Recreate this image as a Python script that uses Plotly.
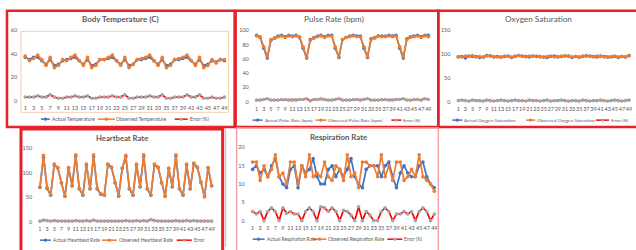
import plotly.graph_objects as go

W, H = 636, 250

# ---------------- data ----------------
idx = list(range(1, 50))
tick_vals = list(range(1, 50, 2))
tick_text = [str(v) for v in tick_vals]

temp_actual = [37, 35, 37, 37, 34, 31, 35, 30, 31, 34, 35, 36, 37, 34, 31, 35, 30, 31,
               35, 35, 36, 37, 34, 31, 35, 30, 31, 35, 35, 36, 37, 34, 31, 35, 30, 31,
               35, 35, 36, 37, 34, 31, 35, 30, 31, 34, 33, 35, 34]
temp_observed = [38, 34, 36, 39, 35, 30, 37, 28, 30, 35, 34, 37, 39, 34, 30, 37, 28, 30,
                 35, 35, 37, 39, 34, 30, 37, 28, 31, 35, 36, 37, 39, 34, 30, 37, 28, 30,
                 35, 36, 37, 39, 34, 30, 37, 28, 30, 35, 32, 35, 35]
temp_error = [3, 3, 3, 4, 3, 3, 5, 3, 2, 2, 3, 3, 4, 3, 3, 4, 2, 2,
              3, 3, 3, 4, 3, 3, 5, 2, 2, 3, 3, 3, 4, 3, 3, 5, 2, 2,
              3, 3, 3, 5, 3, 3, 5, 2, 2, 3, 2, 2, 3]

pulse_actual = [93, 90, 75, 61, 86, 89, 92, 93, 91, 93, 92, 93, 90, 75, 61, 87, 90, 92,
                93, 91, 93, 93, 75, 62, 87, 90, 92, 93, 92, 92, 75, 62, 88, 90, 92, 92,
                92, 93, 92, 93, 75, 61, 88, 91, 92, 93, 91, 93, 93]
pulse_observed = [92, 91, 77, 63, 87, 89, 91, 92, 90, 92, 91, 92, 91, 77, 62, 86, 89, 91,
                  92, 90, 92, 92, 77, 63, 87, 90, 91, 92, 91, 91, 77, 63, 87, 89, 92, 91,
                  91, 92, 91, 92, 77, 63, 87, 90, 91, 92, 90, 92, 91]
pulse_error = [2, 2, 3, 4, 2, 2, 2, 3, 3, 2, 2, 2, 3, 3, 4, 1, 3, 3,
               4, 3, 2, 2, 3, 4, 2, 2, 2, 3, 3, 2, 3, 4, 2, 2, 2, 3,
               3, 2, 2, 3, 3, 4, 2, 2, 3, 3, 2, 4, 3]

oxygen_actual = [94, 95, 92, 96, 95, 95, 93, 94, 97, 96, 94, 95, 94, 95, 96, 93, 95, 97,
                 96, 95, 94, 96, 95, 95, 94, 93, 95, 96, 94, 95, 96, 96, 93, 95, 94, 95,
                 96, 96, 95, 94, 96, 95, 94, 94, 95, 93, 95, 94, 97]
oxygen_observed = [95, 94, 96, 95, 97, 94, 95, 93, 96, 97, 95, 94, 93, 96, 95, 94, 96, 97,
                   95, 94, 96, 95, 96, 94, 93, 95, 96, 94, 95, 96, 97, 95, 94, 95, 93, 96,
                   97, 95, 94, 96, 95, 94, 93, 95, 96, 94, 95, 94, 96]
oxygen_error = [2, 3, 2, 1, 3, 2, 2, 1, 3, 2, 1, 2, 3, 2, 1, 2, 3, 2,
                2, 1, 3, 2, 2, 1, 2, 3, 1, 2, 2, 3, 2, 1, 2, 2, 1, 3,
                2, 1, 2, 2, 3, 2, 1, 2, 3, 2, 1, 2, 3]

heart_actual = [70, 132, 68, 54, 116, 110, 79, 52, 110, 73, 134, 67, 54, 116, 67, 133, 67,
                56, 54, 117, 111, 79, 52, 109, 133, 67, 54, 116, 71, 134, 67, 54, 116, 111,
                79, 52, 109, 71, 134, 67, 54, 116, 67, 118, 111, 80, 51, 110, 73]
heart_observed = [71, 136, 70, 55, 118, 111, 80, 52, 111, 74, 137, 68, 55, 118, 68, 137, 68,
                  57, 55, 118, 112, 80, 53, 110, 136, 68, 55, 118, 72, 137, 68, 55, 118, 112,
                  80, 53, 110, 72, 137, 68, 55, 118, 68, 120, 112, 81, 51, 111, 74]
heart_error = [1, 3, 2, 1, 2, 1, 1, 1, 1, 1, 2, 1, 1, 2, 1, 3, 1, 1, 1, 1, 1, 1, 1, 1, 2,
               1, 1, 2, 1, 2, 1, 4, 2, 1, 1, 1, 1, 1, 2, 1, 1, 2, 1, 2, 1, 1, 1, 1, 1]

resp_actual = [14, 15, 13, 14, 12, 15, 17, 12, 10, 9, 14, 15, 9, 15, 13, 14, 17, 12,
               10, 10, 14, 15, 12, 14, 12, 14, 17, 12, 10, 9, 14, 15, 15, 15, 12, 15,
               16, 12, 9, 13, 15, 13, 12, 12, 15, 16, 12, 10, 9]
resp_observed = [16, 16, 11, 15, 12, 14, 18, 12, 13, 10, 16, 16, 10, 15, 12, 18, 12, 13,
                 12, 16, 12, 11, 15, 14, 11, 18, 12, 13, 9, 16, 16, 15, 15, 12, 18, 12,
                 15, 11, 16, 16, 11, 12, 14, 12, 18, 12, 11, 10, 8]
resp_error = [2.5, 1.8, 2.5, 0, 2.5, 3.5, 2.5, 0, 3.5, 2, 2.5, 1.8, 1.8, 0, 2.5, 3.5, 2.5,
              0, 3.8, 3.5, 2.5, 3.5, 2.5, 0, 2.8, 2.5, 1.5, 0, 3.8, 0, 2.5, 1.5, 0, 0,
              2.5, 3.5, 2.5, 0, 1.8, 1.8, 2.5, 1.8, 2.5, 0, 2.5, 3.5, 2.5, 0, 1.8]

# ---------------- styling ----------------
BLUE = "#4472C4"
ORANGE = "#ED7D31"
ERR = "#FF0000"
GRAY = "#A5A5A5"
TXT = "#595959"
FRAME = "#E8202A"
PALE = "#F3A3A8"
FONT = "Lato"


def fx(px):
    return px / W


def fy(py):
    return 1 - py / H


panels = [
    dict(title="<b>Body Temperature (C)</b>", tx=121, ty=16, tsize=8,
         series=(temp_actual, temp_observed, temp_error),
         names=("Actual Temperature", "Observed Temperature", "Error (%)"),
         x1=25.3, x49=224.8, y0=100, ytop=28, ymax=60, dtick=20,
         leg_y=119, leg=[(41, 50, 51), (98, 115, 115), (175, 188, 189)], lsize=5),
    dict(title="Pulse Rate (bpm)", tx=335, ty=16, tsize=8.2,
         series=(pulse_actual, pulse_observed, pulse_error),
         names=("Actual Pulse Rate (bpm)", "Observed Pulse Rate (bpm)", "Error (%)"),
         x1=257, x49=429, y0=101, ytop=28, ymax=100, dtick=20,
         leg_y=120, leg=[(253, 263, 264), (316, 327, 328), (392, 402, 403)], lsize=4.6),
    dict(title="Oxygen Saturation", tx=539, ty=16, tsize=8.2,
         series=(oxygen_actual, oxygen_observed, oxygen_error),
         names=("Actual Oxygen Saturation", "Observed Oxygen Saturation", "Error (%)"),
         x1=459, x49=630, y0=101, ytop=28, ymax=150, dtick=50,
         leg_y=120, leg=[(453, 463, 464), (527, 536, 537), (597, 610, 611)], lsize=4.6),
    dict(title="<b>Heartbeat Rate</b>", tx=122, ty=138, tsize=7.7,
         series=(heart_actual, heart_observed, heart_error),
         names=("Actual Heartbeat Rate", "Observed Heartbeat Rate", "Error"),
         x1=40, x49=212, y0=224, ytop=149, ymax=150, dtick=50,
         leg_y=243, leg=[(40, 51, 52), (102, 117, 118), (177, 192, 193)], lsize=4.8),
    dict(title="<b>Respiration Rate</b>", tx=339, ty=137, tsize=7.8,
         series=(resp_actual, resp_observed, resp_error),
         names=("Actual Respiration Rate", "Observed Respiration Rate", "Error (%)"),
         x1=253, x49=435, y0=223, ytop=148, ymax=20, dtick=5,
         leg_y=242, leg=[(253, 265, 266), (313, 327, 328), (388, 403, 404)], lsize=4.8),
]

fig = go.Figure()
layout = dict(width=W, height=H, margin=dict(l=0, r=0, t=0, b=0),
              paper_bgcolor="white", plot_bgcolor="rgba(0,0,0,0)",
              showlegend=False, font=dict(family=FONT, color=TXT))
shapes = []
annotations = []

for k, p in enumerate(panels, start=1):
    sfx = "" if k == 1 else str(k)
    step = (p["x49"] - p["x1"]) / 48
    xl = p["x1"] - 0.5 * step
    xr = p["x49"] + 0.5 * step
    layout["xaxis" + sfx] = dict(
        domain=[fx(xl), fx(xr)], range=[0.5, 49.5], anchor="y" + sfx,
        tickvals=tick_vals, ticktext=tick_text, showgrid=False, zeroline=False,
        showline=False, ticks="", tickfont=dict(size=5.5, color=TXT, family=FONT),
        ticklabelstandoff=3, tickangle=0, fixedrange=True)
    layout["yaxis" + sfx] = dict(
        domain=[fy(p["y0"]), fy(p["ytop"])], range=[0, p["ymax"]], anchor="x" + sfx,
        dtick=p["dtick"], tick0=0, showgrid=False, zeroline=False, showline=False,
        ticks="", tickfont=dict(size=5.5, color=TXT, family=FONT),
        ticklabelstandoff=5, fixedrange=True)
    act, obs, err = p["series"]
    for vals, name, lc, mc in ((act, p["names"][0], BLUE, BLUE),
                               (obs, p["names"][1], ORANGE, ORANGE),
                               (err, p["names"][2], ERR, GRAY)):
        fig.add_trace(go.Scatter(
            x=idx, y=vals, name=name, mode="lines+markers", cliponaxis=False,
            line=dict(color=lc, width=1.7), marker=dict(color=mc, size=3.6),
            hoverinfo="skip", xaxis="x" + sfx, yaxis="y" + sfx))
    annotations.append(dict(x=fx(p["tx"]), y=fy(p["ty"]), xref="paper", yref="paper",
                            text=p["title"], showarrow=False, xanchor="center",
                            yanchor="middle",
                            font=dict(size=p["tsize"], color=TXT, family=FONT)))
    # legend row
    for (lx0, lx1, tx), name, lc, mc in zip(p["leg"], p["names"],
                                            (BLUE, ORANGE, ERR), (BLUE, ORANGE, GRAY)):
        ly = p["leg_y"]
        shapes.append(dict(type="line", xref="paper", yref="paper",
                           x0=fx(lx0), x1=fx(lx1), y0=fy(ly), y1=fy(ly),
                           line=dict(color=lc, width=1.5)))
        xm = (lx0 + lx1) / 2
        r = 1.7
        shapes.append(dict(type="circle", xref="paper", yref="paper",
                           x0=fx(xm - r), x1=fx(xm + r), y0=fy(ly + r), y1=fy(ly - r),
                           fillcolor=mc, line=dict(width=0)))
        annotations.append(dict(x=fx(tx), y=fy(ly), xref="paper", yref="paper",
                                text=name, showarrow=False, xanchor="left",
                                yanchor="middle", borderpad=0,
                                font=dict(size=p["lsize"], color=TXT, family=FONT)))

# plot-area outline of the temperature chart
shapes.append(dict(type="rect", xref="paper", yref="paper", x0=fx(21), x1=fx(229),
                   y0=fy(112), y1=fy(29), line=dict(color="#F5CDB3", width=1)))
# panel frames
frames = [
    ((7, 8, 235, 127), FRAME, 2.5),
    ((236, 8, 439, 127), FRAME, 2.5),
    ((439, 8, 642, 127), FRAME, 2.5),
    ((21, 129, 223, 262), FRAME, 3),
    ((237, 128, 439, 262), PALE, 1.5),
]
for (a, b, c, d), col, wd in frames:
    shapes.append(dict(type="rect", xref="paper", yref="paper", x0=fx(a), x1=fx(c),
                       y0=fy(d), y1=fy(b), line=dict(color=col, width=wd)))
shapes.append(dict(type="line", xref="paper", yref="paper", x0=fx(226), x1=fx(226),
                   y0=fy(250), y1=fy(129), line=dict(color=PALE, width=1)))

layout["shapes"] = shapes
layout["annotations"] = annotations
layout["hovermode"] = False
fig.update_layout(**layout)
fig.write_html("out.html", config={"displayModeBar": False, "staticPlot": True},
               post_script="document.body.style.margin='0';document.body.style.overflow='hidden';")
